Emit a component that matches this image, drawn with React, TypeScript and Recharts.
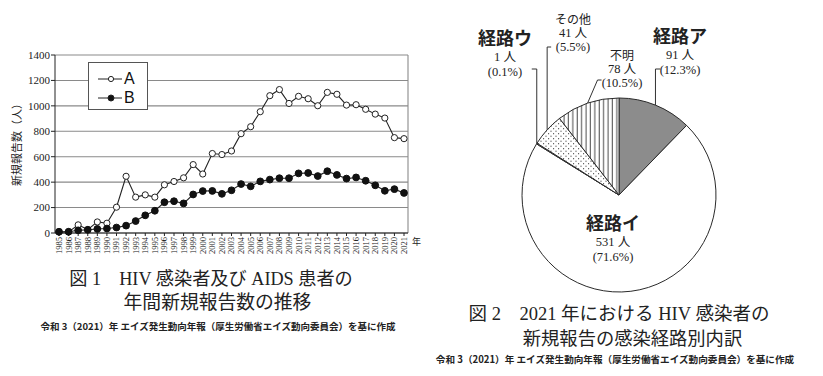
import React from "react"
import {
  LineChart,
  Line,
  XAxis,
  YAxis,
  CartesianGrid,
  Legend,
  PieChart,
  Pie,
  Cell,
} from "recharts"

// 図1: 年間新規報告数 (1985-2021)
const years = [
  1985, 1986, 1987, 1988, 1989, 1990, 1991, 1992, 1993, 1994, 1995, 1996, 1997,
  1998, 1999, 2000, 2001, 2002, 2003, 2004, 2005, 2006, 2007, 2008, 2009, 2010,
  2011, 2012, 2013, 2014, 2015, 2016, 2017, 2018, 2019, 2020, 2021,
]
const seriesA = [
  8, 8, 64, 27, 87, 77, 203, 446, 282, 300, 282, 379, 405, 434, 538, 464, 625,
  617, 645, 781, 836, 954, 1080, 1128, 1019, 1075, 1056, 1001, 1106, 1091, 1006,
  1009, 973, 935, 904, 750, 742,
]
const seriesB = [
  10, 10, 21, 25, 32, 35, 43, 58, 94, 139, 175, 242, 250, 233, 303, 330, 331,
  308, 336, 385, 367, 406, 420, 431, 431, 469, 472, 448, 486, 457, 428, 437,
  411, 375, 332, 345, 315,
]
const yTicks = [0, 200, 400, 600, 800, 1000, 1200, 1400]

// 図2: 2021年 HIV感染者の感染経路別内訳
const routeNames = ["経路ア", "経路イ", "経路ウ", "その他", "不明"]
const routeCounts = [91, 531, 1, 41, 78]
const routeShares = ["12.3", "71.6", "0.1", "5.5", "10.5"]

const lineData = years.map((year, i) => ({ year, A: seriesA[i], B: seriesB[i] }))
const pieData = routeNames.map((name, i) => ({
  name,
  value: routeCounts[i],
  share: routeShares[i],
}))

const SERIF = '"Liberation Serif", "Noto Sans CJK JP", serif'
const GOTHIC = '"Noto Sans CJK JP", "Noto Sans", sans-serif'
const INK = "#222"

const cellFills = ["#8c8c8c", "#fff", "#fff", "url(#dots)", "url(#stripes)"]

// label placement relative to the pie centre (layout only)
const labelLayout = [
  { tx: 61, ty: -160, big: true, elbowY: -126, knee: 0, tail: 5 },
  { tx: -6, ty: 27, big: true, elbowY: null, knee: 0, tail: 0 },
  { tx: -114, ty: -158, big: true, elbowY: -126, knee: 0, tail: -5 },
  { tx: -46, ty: -177, big: false, elbowY: -148, knee: 0, tail: 4 },
  { tx: 3, ty: -141, big: false, elbowY: -115, knee: 10, tail: 4 },
]

const RAD = Math.PI / 180

function renderPieLabel(props: any) {
  const { cx, cy, midAngle, outerRadius, index } = props
  const lay = labelLayout[index]
  const item = pieData[index]
  const ax = cx + outerRadius * Math.cos(-midAngle * RAD)
  const ay = cy + outerRadius * Math.sin(-midAngle * RAD)
  const x = cx + lay.tx
  const y = cy + lay.ty
  const gap1 = lay.big ? 20 : 14.5
  return (
    <g key={"lbl" + index}>
      {lay.elbowY !== null && (
        <polyline
          points={`${ax},${ay} ${ax + lay.knee},${cy + lay.elbowY} ${ax + lay.knee + lay.tail},${cy + lay.elbowY}`}
          fill="none"
          stroke="#333"
          strokeWidth={1}
        />
      )}
      <text
        x={x}
        y={y}
        textAnchor="middle"
        dominantBaseline="central"
        fontFamily={GOTHIC}
        fontWeight={lay.big ? 700 : 400}
        fontSize={lay.big ? 18 : 12}
        fill={INK}
      >
        {item.name}
      </text>
      <text x={x} y={y + gap1} textAnchor="middle" dominantBaseline="central" fontFamily={SERIF} fontSize={12.5} fill={INK}>
        {item.value} 人
      </text>
      <text x={x} y={y + gap1 + 14.5} textAnchor="middle" dominantBaseline="central" fontFamily={SERIF} fontSize={12.5} fill={INK}>
        ({item.share}%)
      </text>
    </g>
  )
}

function YearTick(props: any) {
  const { x, y, payload } = props
  return (
    <text
      x={x}
      y={y}
      transform={`rotate(-90 ${x} ${y})`}
      textAnchor="end"
      dy="0.35em"
      fontFamily={SERIF}
      fontSize={8.5}
      fill={INK}
    >
      {payload.value}
    </text>
  )
}

function LegendBox(props: any) {
  const { payload } = props
  return (
    <div style={{ padding: "6px 0 0 9px" }}>
      {(payload || []).map((entry: any) => (
        <div key={entry.value} style={{ display: "flex", alignItems: "center", height: 19 }}>
          <svg width={25} height={12}>
            <line x1={0} y1={6} x2={24} y2={6} stroke={INK} strokeWidth={1} />
            <circle
              cx={13}
              cy={6}
              r={entry.value === "A" ? 2.6 : 3}
              fill={entry.value === "A" ? "#fff" : "#111"}
              stroke={INK}
              strokeWidth={1}
            />
          </svg>
          <span style={{ fontFamily: '"Liberation Sans", Arial, sans-serif', fontSize: 16, color: "#111", marginLeft: 1 }}>
            {entry.value}
          </span>
        </div>
      ))}
    </div>
  )
}

const abs = (left: number, top: number, extra: React.CSSProperties = {}): React.CSSProperties => ({
  position: "absolute",
  left,
  top,
  whiteSpace: "nowrap",
  color: INK,
  ...extra,
})

export default function App() {
  return (
    <div style={{ position: "absolute", left: 0, top: 0, width: 823, height: 376, background: "#fff", overflow: "hidden" }}>
      <div style={{ position: "absolute", left: 0, top: 0 }}>
        <LineChart
          width={430}
          height={280}
          data={lineData}
          margin={{ top: 55, right: 22, bottom: 17, left: 30 }}
        >
          <CartesianGrid
            stroke="#8a8a8a"
            strokeWidth={1.1}
            verticalCoordinatesGenerator={({ offset }: any) => [offset.left + offset.width]}
          />
          <XAxis
            dataKey="year"
            type="category"
            interval={0}
            padding={{ left: 4, right: 4 }}
            height={30}
            tickSize={3}
            tickMargin={1}
            stroke={INK}
            tick={<YearTick />}
          />
          <YAxis
            domain={[0, 1400]}
            ticks={yTicks}
            width={25}
            tickSize={4}
            tickMargin={1}
            stroke={INK}
            tick={{ fontFamily: SERIF, fontSize: 11, fill: INK }}
          />
          <Legend
            layout="vertical"
            align="center"
            verticalAlign="middle"
            content={<LegendBox />}
            wrapperStyle={{
              left: 88,
              top: 62,
              width: 60,
              height: 48,
              border: "1px solid #555",
              background: "#fff",
              boxSizing: "border-box",
            }}
          />
          <Line
            dataKey="A"
            name="A"
            stroke={INK}
            strokeWidth={1.1}
            dot={{ r: 3.1, fill: "#fff", stroke: INK, strokeWidth: 1 }}
            isAnimationActive={false}
          />
          <Line
            dataKey="B"
            name="B"
            stroke={INK}
            strokeWidth={1.1}
            dot={{ r: 3.4, fill: "#111", stroke: "#111", strokeWidth: 1 }}
            isAnimationActive={false}
          />
        </LineChart>
      </div>

      <div
        style={abs(-34, 135, {
          width: 100,
          height: 14,
          lineHeight: "14px",
          textAlign: "center",
          transform: "rotate(-90deg)",
          fontFamily: GOTHIC,
          fontSize: 11,
        })}
      >
        新規報告数（人）
      </div>
      <div style={abs(412, 235, { fontFamily: GOTHIC, fontSize: 9, lineHeight: "14px" })}>年</div>

      {/* 図1 caption */}
      <div style={abs(0, 267, { width: 422, textAlign: "center", fontFamily: SERIF, fontSize: 18.2, lineHeight: "24px" })}>
        図 1　HIV 感染者及び AIDS 患者の
      </div>
      <div style={abs(0, 291, { width: 435, textAlign: "center", fontFamily: SERIF, fontSize: 18.8, lineHeight: "24px" })}>
        年間新規報告数の推移
      </div>
      <div style={abs(0, 320, { width: 436, textAlign: "center", fontFamily: GOTHIC, fontWeight: 700, fontSize: 9.5, lineHeight: "13px" })}>
        令和 3（2021）年 エイズ発生動向年報（厚生労働省エイズ動向委員会）を基に作成
      </div>

      <div style={{ position: "absolute", left: 430, top: 0 }}>
        <PieChart width={393} height={300} margin={{ top: 0, right: 0, bottom: 0, left: 0 }}>
          <defs>
            <pattern id="dots" width="5" height="5" patternUnits="userSpaceOnUse">
              <rect width="5" height="5" fill="#fff" />
              <circle cx="1" cy="1.2" r="0.6" fill="#444" />
              <circle cx="3.6" cy="3.7" r="0.6" fill="#444" />
            </pattern>
            <pattern id="stripes" width="4.4" height="4" patternUnits="userSpaceOnUse">
              <rect width="4.4" height="4" fill="#fff" />
              <line x1="2" y1="0" x2="2" y2="4" stroke="#333" strokeWidth="0.9" />
            </pattern>
          </defs>
          <Pie
            data={pieData}
            dataKey="value"
            nameKey="name"
            cx={189}
            cy={195}
            outerRadius={97}
            startAngle={90}
            endAngle={-270}
            label={renderPieLabel}
            labelLine={false}
            isAnimationActive={false}
          >
            {pieData.map((d, i) => (
              <Cell key={d.name} fill={cellFills[i]} stroke="#2a2a2a" strokeWidth={1} />
            ))}
          </Pie>
        </PieChart>
      </div>

      {/* 図2 caption */}
      <div style={abs(468, 302, { width: 302, textAlign: "center", fontFamily: SERIF, fontSize: 18.5, lineHeight: "24px" })}>
        図 2　2021 年における HIV 感染者の
      </div>
      <div style={abs(520, 327, { width: 225, textAlign: "center", fontFamily: SERIF, fontSize: 18.3, lineHeight: "24px" })}>
        新規報告の感染経路別内訳
      </div>
      <div style={abs(430, 353, { width: 370, textAlign: "center", fontFamily: GOTHIC, fontWeight: 700, fontSize: 9.6, lineHeight: "13px" })}>
        令和 3（2021）年 エイズ発生動向年報（厚生労働省エイズ動向委員会）を基に作成
      </div>
    </div>
  )
}
